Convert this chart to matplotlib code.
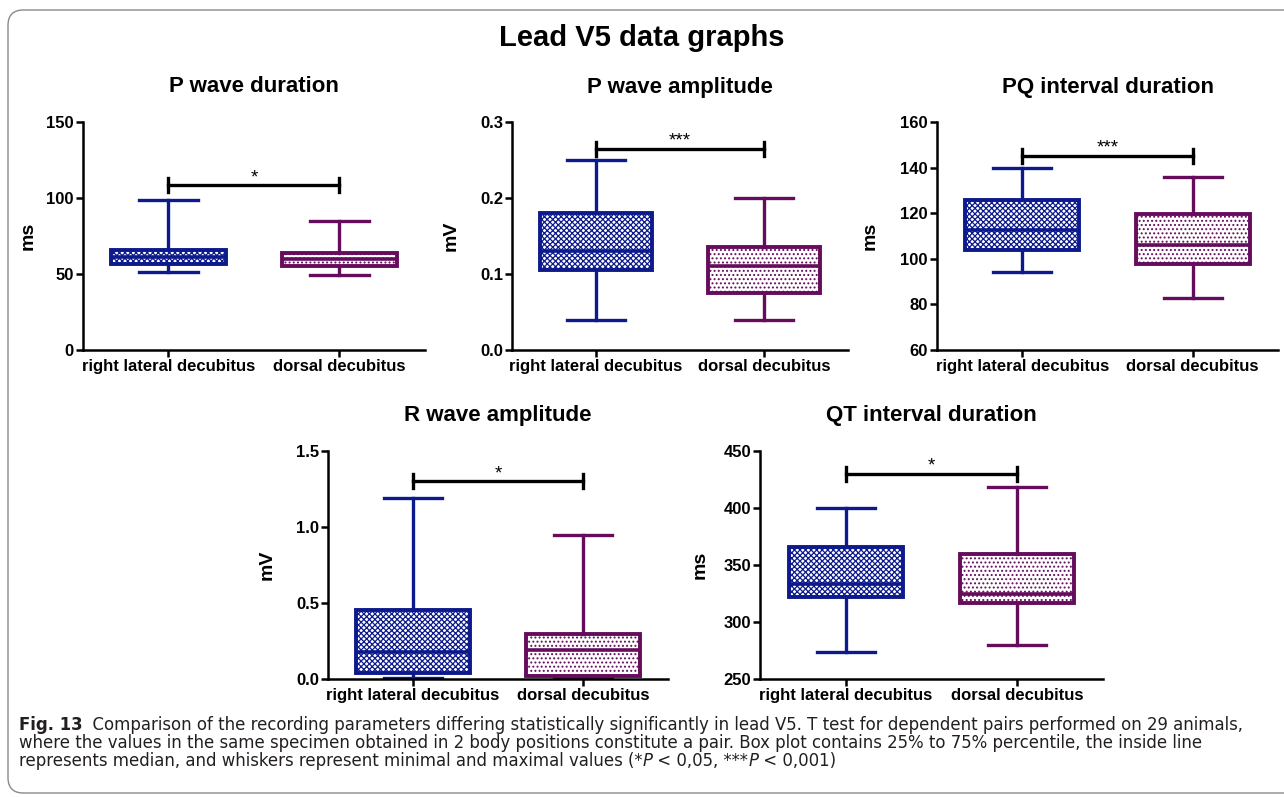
import matplotlib
matplotlib.use("Agg")
import matplotlib.pyplot as plt
from matplotlib.patches import FancyBboxPatch
from matplotlib import font_manager as fm
from matplotlib.font_manager import FontProperties

plt.rcParams['font.family'] = ['Liberation Sans', 'DejaVu Sans']
plt.rcParams['hatch.linewidth'] = 0.9

# Dados
categories = ["right lateral decubitus", "dorsal decubitus"]
titles = ["P wave duration", "P wave amplitude", "PQ interval duration",
          "R wave amplitude", "QT interval duration"]
units = ["ms", "mV", "ms", "mV", "ms"]
stars = ["*", "***", "***", "*", "*"]

# [min, q1, mediana, q3, max]
right_lateral = [
    [51.6, 56.4, 61.0, 65.8, 98.4],
    [0.04, 0.105, 0.13, 0.18, 0.25],
    [94.0, 104.0, 112.5, 126.0, 140.0],
    [0.005, 0.037, 0.18, 0.455, 1.19],
    [274, 322, 333, 366, 400],
]
dorsal = [
    [49.2, 55.3, 60.0, 63.6, 84.8],
    [0.04, 0.075, 0.11, 0.135, 0.20],
    [82.6, 97.5, 106.0, 119.5, 136.0],
    [0.005, 0.022, 0.19, 0.296, 0.95],
    [280, 317, 325, 360, 418],
]
bracket_y = [108.3, 0.265, 145.3, 1.30, 430]
y_limits = [(0, 150), (0, 0.3), (60, 160), (0, 1.5), (250, 450)]
y_ticks = [[0, 50, 100, 150], [0.0, 0.1, 0.2, 0.3], [60, 80, 100, 120, 140, 160],
           [0.0, 0.5, 1.0, 1.5], [250, 300, 350, 400, 450]]
y_ticklabels = [["0", "50", "100", "150"], ["0.0", "0.1", "0.2", "0.3"],
                ["60", "80", "100", "120", "140", "160"],
                ["0.0", "0.5", "1.0", "1.5"], ["250", "300", "350", "400", "450"]]

cores = ["#0c1a8c", "#650c5c"]
hatches = ["xxxxxx", "...."]

W, H = 1284, 797
fig = plt.figure(figsize=(W / 100, H / 100), dpi=100)

# moldura arredondada
frame = FancyBboxPatch((8 / W, 4 / H), 1.1, (H - 14) / H,
                       boxstyle="round,pad=0,rounding_size=0.012",
                       mutation_aspect=W / H, transform=fig.transFigure,
                       facecolor="none", edgecolor="#8a8a8a", lw=1.0)
fig.patches.append(frame)

fig.text(642 / W, 1 - 38 / H, "Lead V5 data graphs", ha="center", va="center",
         fontsize=21, fontweight="bold")

# posições dos eixos em pixels: esquerda, direita, topo, base
caixas = [(83, 425, 122, 350), (512, 848, 122, 350), (937, 1278, 122, 350),
          (328, 668, 451, 679), (760, 1103, 451, 679)]
label_off = [-46, -52, -58, -52, -51]

for i in range(5):
    l, r, t, b = caixas[i]
    ax = fig.add_axes([l / W, 1 - b / H, (r - l) / W, (b - t) / H])
    stats = []
    for vals in (right_lateral[i], dorsal[i]):
        stats.append(dict(whislo=vals[0], q1=vals[1], med=vals[2],
                          q3=vals[3], whishi=vals[4], fliers=[]))
    bp = ax.bxp(stats, positions=[0, 1], widths=0.667, capwidths=0.34,
                patch_artist=True, showfliers=False)
    for j in range(2):
        c = cores[j]
        bp["boxes"][j].set(facecolor="white", edgecolor=c, hatch=hatches[j],
                           linewidth=2.8)
        bp["medians"][j].set(color=c, linewidth=2.6)
        for k in (2 * j, 2 * j + 1):
            bp["whiskers"][k].set(color=c, linewidth=2.4)
            bp["caps"][k].set(color=c, linewidth=2.4)

    y0, y1 = y_limits[i]
    ax.set_xlim(-0.5, 1.5)
    ax.set_ylim(y0, y1)
    ax.set_yticks(y_ticks[i])
    ax.set_yticklabels(y_ticklabels[i], fontsize=12, fontweight="bold")
    ax.set_xticks([0, 1])
    ax.set_xticklabels(categories, fontsize=12, fontweight="bold")
    ax.tick_params(length=5, width=1.8, pad=1.5)
    for s in ("top", "right"):
        ax.spines[s].set_visible(False)
    for s in ("left", "bottom"):
        ax.spines[s].set_linewidth(1.8)
    ax.set_ylabel(units[i], fontsize=14, fontweight="bold")
    ax.yaxis.set_label_coords(label_off[i] / (r - l), 0.5)
    ax.text(0.5, 1 + 35 / (b - t), titles[i], transform=ax.transAxes,
            ha="center", va="center", fontsize=16, fontweight="bold")

    # barra de significância
    h = 7 / (b - t) * (y1 - y0)
    by = bracket_y[i]
    ax.plot([0, 1], [by, by], color="black", lw=2.4, clip_on=False)
    ax.plot([0, 0], [by - h, by + h], color="black", lw=2.4, clip_on=False)
    ax.plot([1, 1], [by - h, by + h], color="black", lw=2.4, clip_on=False)
    ax.text(0.5, by - h * 0.1, stars[i], ha="center", va="bottom", fontsize=13.5)


# fonte estreita para a legenda, se existir
def peso(f):
    w = f.weight
    if isinstance(w, str):
        w = fm.weight_dict.get(w, 400)
    return w


estreitas = [f for f in fm.fontManager.ttflist
             if f.fname.lower().endswith((".ttf", ".otf"))
             and ("Narrow" in f.name or "Condensed" in f.name
                  or "condensed" in str(f.stretch) or "narrow" in f.fname.lower())]


def fonte(bold=False, italic=False):
    for f in estreitas:
        ok_w = (peso(f) >= 600) == bold
        ok_s = (f.style != "normal") == italic
        if ok_w and ok_s:
            return FontProperties(fname=f.fname)
    return FontProperties(family="Liberation Sans",
                          weight="bold" if bold else "normal",
                          style="italic" if italic else "normal")


renderer = fig.canvas.get_renderer()
linhas = [
    [("Fig. 13", "b"),
     ("  Comparison of the recording parameters differing statistically significantly "
      "in lead V5. T test for dependent pairs performed on 29 animals,", "r")],
    [("where the values in the same specimen obtained in 2 body positions constitute "
      "a pair. Box plot contains 25% to 75% percentile, the inside line", "r")],
    [("represents median, and whiskers represent minimal and maximal values (*", "r"),
     ("P", "i"), (" < 0,05, ***", "r"), ("P", "i"), (" < 0,001)", "r")],
]
props = {"r": fonte(), "b": fonte(bold=True), "i": fonte(italic=True)}


def escrever(pedacos, x, y, tamanho):
    textos = []
    for txt, k in pedacos:
        fp = props[k].copy()
        fp.set_size(tamanho)
        t = fig.text(x / W, 1 - y / H, txt, va="baseline", fontproperties=fp,
                     color="#231f20")
        bb = t.get_window_extent(renderer=renderer)
        x = bb.x1
        textos.append(t)
    return x, textos


# ajusta o tamanho para a largura da primeira linha (19 a 1266 px)
fim, tmp = escrever(linhas[0], 19, 729, 10)
for t in tmp:
    t.remove()
tamanho = min(10 * (1266 - 19) / (fim - 19), 13.2)

for n, pedacos in enumerate(linhas):
    escrever(pedacos, 19, 730 + 18 * n, tamanho)

fig.savefig("out.png", dpi=100)
